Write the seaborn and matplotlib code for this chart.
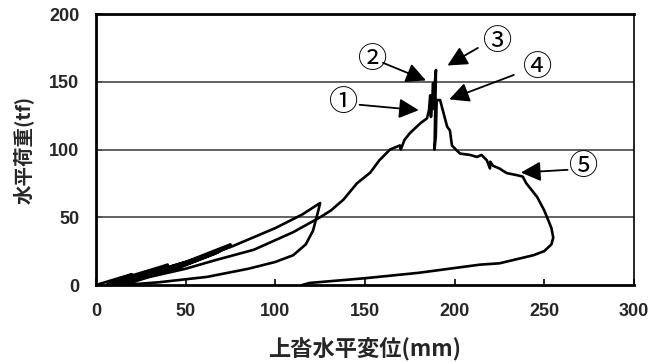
import matplotlib
matplotlib.use("Agg")
import matplotlib.pyplot as plt
import seaborn as sns
import pandas as pd

# horizontal displacement (mm) and horizontal load (tf), in test order
disp = [0, 10, 20, 14, 6,
        20, 40, 34, 22, 10,
        30, 50, 75, 68, 50, 30, 14,
        35, 55, 72, 75, 66, 45, 25, 12,
        40, 75, 100, 115, 122, 125,
        124, 123, 121, 117, 110, 100, 85, 62, 35, 15,
        30, 50, 67, 88, 110, 125, 131,
        138, 145.5, 153, 158, 164, 169.5, 170, 172, 175, 181, 184.6, 185.7,
        186.4, 186.8, 187.5, 188, 188.3, 189, 189.6, 189.2, 188.8, 189.5,
        190, 191.9, 193, 195.8, 197.4, 198.5, 201, 203, 208.6, 212.5, 215,
        218, 219.7, 219.9, 221.4, 225, 229, 235, 238, 240, 246, 250, 254,
        255, 254, 250, 244, 225, 214, 180, 150, 119, 115]
load = [0, 4, 8, 4, 0,
        7, 15, 11, 6, 0,
        9, 17, 30, 24, 15, 7, 0,
        11, 19, 27, 29, 23, 12, 5, 0,
        12, 28, 42, 52, 58, 60.5,
        55, 50, 40, 30, 22, 17, 12, 6, 2, 0,
        6, 12, 18.5, 26, 39, 50, 55,
        63, 75, 83, 92, 100, 103, 100, 107, 112, 119.5, 123, 129,
        140, 124, 135, 149, 130, 150, 158.7, 130, 100, 110,
        136.5, 136.5, 131, 117, 114, 103, 99.6, 97, 96, 94.5, 96,
        92, 86, 91, 88, 86, 82.6, 81, 80, 75, 65, 55, 42,
        35, 30, 25, 22, 16, 15, 9, 5, 1.5, 0]

marks = ["①", "②", "③", "④", "⑤"]
mark_xy = [(138, 134), (154, 166), (224, 179), (246, 160), (272, 87)]
arrow_tail = [(147, 133), (160, 164), (213, 175), (233, 155), (263, 85)]
arrow_tip = [(180, 129), (184, 151), (196, 162), (197, 137), (237, 83)]

xticks = [0, 50, 100, 150, 200, 250, 300]
yticks = [0, 50, 100, 150, 200]

df = pd.DataFrame({"step": range(len(disp)), "disp": disp, "load": load})

sns.set_theme(style="white")
plt.rcParams["font.family"] = ["Noto Sans CJK JP", "DejaVu Sans"]

fig = plt.figure(figsize=(6.68, 3.62), dpi=100)
ax = fig.add_axes([0.1437, 0.2127, 0.8053, 0.7486])

for gy in [50, 100, 150]:
    ax.axhline(gy, color="#555555", lw=1.3, zorder=1)

sns.lineplot(data=df, x="disp", y="load", sort=False, estimator=None,
             color="black", lw=1.9, ax=ax, zorder=3)

for m, (tx, ty), (ax0, ay0), (hx, hy) in zip(marks, mark_xy, arrow_tail, arrow_tip):
    ax.text(tx, ty, m, fontsize=21, ha="center", va="center", color="black",
            family=["Noto Sans CJK JP", "DejaVu Sans"], zorder=5)
    ax.annotate("", xy=(hx, hy), xytext=(ax0, ay0),
                arrowprops=dict(arrowstyle="-|>,head_length=0.6,head_width=0.3",
                                color="black", lw=1.3,
                                mutation_scale=20, shrinkA=0, shrinkB=0),
                zorder=5)

ax.set_xlim(0, 300)
ax.set_ylim(0, 200)
ax.set_xticks(xticks)
ax.set_yticks(yticks)
ax.set_xticklabels([str(v) for v in xticks], fontsize=13, fontweight="bold",
                   family=["Liberation Sans", "DejaVu Sans"])
ax.set_yticklabels([str(v) for v in yticks], fontsize=13, fontweight="bold",
                   family=["Liberation Sans", "DejaVu Sans"])
ax.tick_params(axis="x", direction="in", length=4, width=1.2, color="black",
               pad=13, bottom=True)
ax.tick_params(axis="y", direction="in", length=4, width=1.2, color="black",
               pad=12, left=True)
ax.set_xlabel("上沓水平変位(mm)", fontsize=16, fontweight="bold", labelpad=13)
ax.set_ylabel("水平荷重(tf)", fontsize=14, fontweight="bold", labelpad=11)

for side in ["left", "bottom", "top"]:
    ax.spines[side].set_color("black")
    ax.spines[side].set_linewidth(2)
ax.spines["right"].set_color("black")
ax.spines["right"].set_linewidth(1.2)

fig.savefig("out.png", dpi=100)
